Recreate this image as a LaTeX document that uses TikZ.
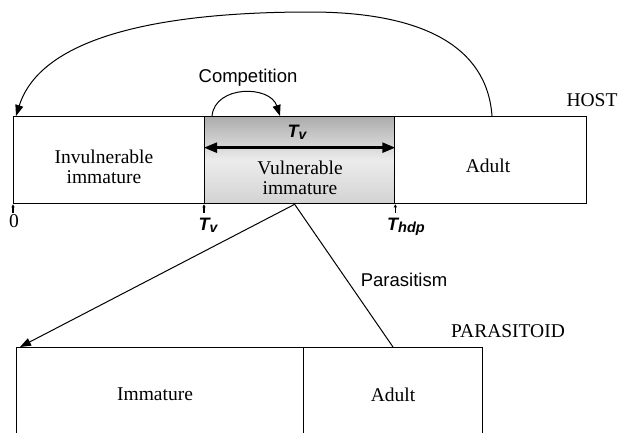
\documentclass[tikz,border=0pt]{standalone}
\usepackage{fontspec}
\setmainfont{Liberation Serif}
\setsansfont{Liberation Sans}
\usetikzlibrary{arrows.meta}
\begin{document}
\begin{tikzpicture}[x=1pt,y=-1pt,
  stagebox/.style={draw=black, line width=1.3pt, inner sep=0pt, minimum height=87pt, anchor=north west},
  pbox/.style={draw=black, line width=1.3pt, inner sep=0pt, minimum height=110pt, anchor=north west},
  serif/.style={font=\fontsize{19.5}{20.5}\selectfont, align=center, inner sep=0pt},
  sanslab/.style={font=\sffamily\fontsize{18.5}{19}\selectfont, inner sep=0pt},
  tlab/.style={font=\sffamily\bfseries\itshape\fontsize{18}{18}\selectfont, inner sep=0pt},
  flow/.style={line width=1pt, -{Triangle[length=11pt,width=8pt]}},
  tick/.style={line width=1.1pt, {Triangle[length=3pt,width=3pt]}-}
]
\useasboundingbox (0,0) rectangle (621,432);

% host stages
\node[stagebox, minimum width=191pt] (inv) at (13,116) {};
\node[stagebox, minimum width=190pt, top color=gray!65, bottom color=gray!35, middle color=gray!15] (vul) at (204,116) {};
\node[stagebox, minimum width=192pt] (adh) at (394,116) {};

\node[serif] (tinv) at (104,167) {Invulnerable\\immature};
\node[serif] (tvul) at (300,178) {Vulnerable\\immature};
\node[serif] (tadh) at (488,166) {Adult};
\node[serif] (host) at (592,100) {HOST};

% Tv duration
\draw[line width=2.4pt, {Triangle[length=13pt,width=10pt]}-{Triangle[length=13pt,width=10pt]}]
  ([yshift=12.5pt]vul.west) -- ([yshift=12.5pt]vul.east);
\node[tlab] (tvin) at (297,132) {T\raisebox{-2pt}{\fontsize{14}{14}\selectfont v}};

% ticks
\coordinate (k0) at ([yshift=-9pt]inv.south west);
\coordinate (k1) at ([yshift=-9pt]vul.south west);
\coordinate (k2) at ([yshift=-9pt]vul.south east);
\draw[tick] (inv.south west) -- (k0);
\draw[tick] (vul.south west) -- (k1);
\draw[tick] (vul.south east) -- (k2);
\node[serif] (l0) at (14,221) {0};
\node[tlab] (l1) at (208,225) {T\raisebox{-2pt}{\fontsize{14}{14}\selectfont v}};
\node[tlab] (l2) at (406,227) {T\raisebox{-2pt}{\fontsize{14.5}{14.5}\selectfont hdp}};

% big reproduction arc
\draw[flow] ([xshift=98pt]adh.north west) .. controls (487,45) and (420,12) .. (310,12)
  .. controls (150,12) and (40,40) .. ([xshift=3pt]inv.north west);

% competition
\draw[flow] ([xshift=8pt]vul.north west) .. controls (215,85) and (270,85) .. ([xshift=76pt]vul.north west);
\node[sanslab] (comp) at (248,78) {Competition};

% parasitoid stages
\node[pbox, minimum width=287pt] (pimm) at (16,347) {};
\node[pbox, minimum width=179pt] (padu) at (303,347) {};
\node[serif] (timm) at (155,394) {Immature};
\node[serif] (tpad) at (393,395) {Adult};
\node[serif] (para) at (508,331) {PARASITOID};

% parasitism
\coordinate (porig) at ([xshift=-5pt]vul.south);
\draw[flow] (porig) -- ([xshift=4pt]pimm.north west);
\draw[line width=1pt] (porig) -- ([xshift=90pt]padu.north west);
\node[sanslab] (parl) at (404,280) {Parasitism};
\end{tikzpicture}
\end{document}
